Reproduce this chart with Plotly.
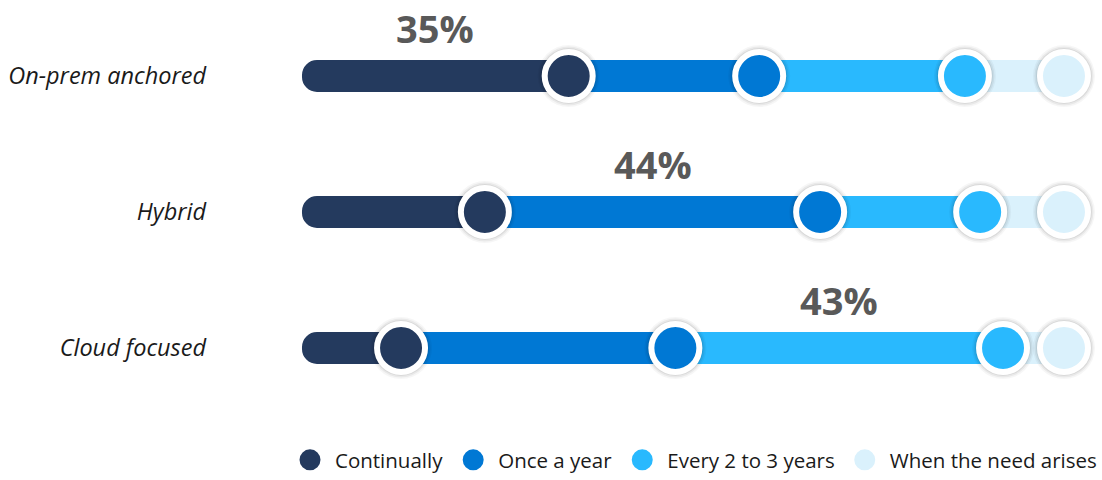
import plotly.graph_objects as go

# ---- data ----
groups = ["On-prem anchored", "Hybrid", "Cloud focused"]
series = ["Continually", "Once a year", "Every 2 to 3 years", "When the need arises"]
continually = [35, 24, 13]
once_a_year = [25, 44, 36]
every_2_3 = [27, 21, 43]
when_needed = [13, 11, 8]
highlighted = ["Continually", "Once a year", "Every 2 to 3 years"]  # labelled segment per group

colors = ["#243A5E", "#0078D4", "#29B9FE", "#DAF1FC"]
values = [continually, once_a_year, every_2_3, when_needed]

# cumulative starts/ends
starts, ends = [], []
run = [0] * len(groups)
for vals in values:
    starts.append(list(run))
    run = [r + v for r, v in zip(run, vals)]
    ends.append(list(run))

fig = go.Figure()

# bar segments
for i, (name, vals) in enumerate(zip(series, values)):
    if i == 0:
        # drawn from its end back to zero so the rounded corner sits on the left
        fig.add_trace(go.Bar(
            y=groups, x=[-v for v in vals], base=ends[i], orientation="h",
            width=0.235, marker=dict(color=colors[i], cornerradius=16, line=dict(width=0)),
            showlegend=False, hoverinfo="skip"))
    else:
        fig.add_trace(go.Bar(
            y=groups, x=vals, base=starts[i], orientation="h",
            width=0.235, marker=dict(color=colors[i], line=dict(width=0)),
            showlegend=False, hoverinfo="skip"))

# circles at segment ends (soft shadow + white-rimmed disc)
for i, name in enumerate(series):
    for sz, op in ((62, 0.035), (59, 0.05), (56, 0.07)):
        fig.add_trace(go.Scatter(
            x=ends[i], y=groups, mode="markers",
            marker=dict(size=sz, color=f"rgba(0,0,0,{op})", line=dict(width=0)),
            showlegend=False, hoverinfo="skip", cliponaxis=False))
    fig.add_trace(go.Scatter(
        x=ends[i], y=groups, mode="markers",
        marker=dict(size=48, color=colors[i], line=dict(color="white", width=6)),
        showlegend=False, hoverinfo="skip", cliponaxis=False))

# legend entries
for i, name in enumerate(series):
    fig.add_trace(go.Scatter(
        x=[None], y=[None], mode="markers", name=name,
        marker=dict(size=16, color=colors[i], line=dict(color=colors[i], width=5))))

# percentage labels above highlighted segment
for g_idx, g in enumerate(groups):
    s_idx = series.index(highlighted[g_idx])
    v = values[s_idx][g_idx]
    mid = starts[s_idx][g_idx] + v / 2
    fig.add_annotation(x=mid, y=g, text=f"{v}%", showarrow=False, yshift=48,
                       font=dict(family="Open Sans", size=38, color="#595959", weight="bold"))

fig.update_layout(
    width=1102, height=480,
    margin=dict(l=220, r=0, t=0, b=0),
    paper_bgcolor="white", plot_bgcolor="white",
    barmode="overlay",
    hovermode=False,
    font=dict(family="Open Sans", color="#1a1a1a"),
    xaxis=dict(range=[-10.76, 104.99], visible=False, fixedrange=True),
    yaxis=dict(range=[2.9706, -0.5588], type="category", categoryorder="array",
               categoryarray=groups, showgrid=False, zeroline=False, showline=False,
               ticks="", ticklabelstandoff=13,
               tickfont=dict(family="Open Sans", size=23.5, style="italic", color="#1a1a1a"),
               fixedrange=True),
    legend=dict(orientation="h", x=1, xanchor="right", y=0, yanchor="bottom",
                font=dict(family="Open Sans", size=20.5, color="#1a1a1a"),
                bgcolor="rgba(0,0,0,0)", itemsizing="trace", itemwidth=40),
)

fig.write_html("out.html", config={"displayModeBar": False},
               post_script="document.body.style.margin='0';document.body.style.padding='0';")
